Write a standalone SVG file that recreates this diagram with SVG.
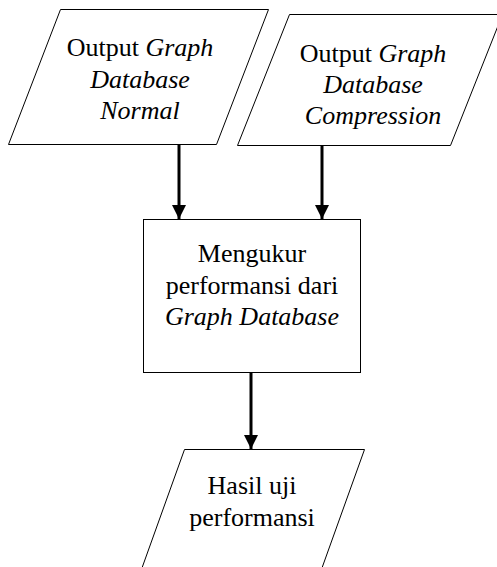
<svg xmlns="http://www.w3.org/2000/svg" width="497" height="567" viewBox="0 0 497 567">
<style>
.shape{fill:#fff;stroke:#000;stroke-width:1}
.t{font-family:"Liberation Serif","Times New Roman",serif;font-size:26px;fill:#000;text-anchor:middle}
.i{font-style:italic}
.conn{stroke:#000;stroke-width:3;fill:none}
</style>
<defs>
<marker id="ah" markerWidth="14" markerHeight="14" viewBox="0 0 14 14" refX="14" refY="7" orient="auto" markerUnits="userSpaceOnUse">
<path d="M0,0 L14,7 L0,14 Z" fill="#000"/>
</marker>
</defs>
<rect width="497" height="567" fill="#fff"/>
<g id="n1">
<polygon class="shape" points="60.5,9.5 268.5,9.5 216.5,144.5 8.5,144.5"/>
<text class="t" x="140" y="56">Output <tspan class="i">Graph</tspan></text>
<text class="t i" x="140" y="88">Database</text>
<text class="t i" x="140" y="119">Normal</text>
</g>
<g id="n2">
<polygon class="shape" points="289.5,14.5 502.5,14.5 450.5,145.5 237.5,145.5"/>
<text class="t" x="373" y="62">Output <tspan class="i">Graph</tspan></text>
<text class="t i" x="373" y="93">Database</text>
<text class="t i" x="373" y="124">Compression</text>
</g>
<g id="n3">
<rect class="shape" x="143.5" y="219.5" width="217" height="153"/>
<text class="t" x="252" y="262">Mengukur</text>
<text class="t" x="252" y="294">performansi dari</text>
<text class="t i" x="252" y="325">Graph Database</text>
</g>
<g id="n4">
<polygon class="shape" points="184.5,449.5 364.5,449.5 310.5,600 130.5,600"/>
<text class="t" x="252" y="494">Hasil uji</text>
<text class="t" x="252" y="526">performansi</text>
</g>
<g id="connectors">
<line class="conn" x1="179" y1="145" x2="179" y2="219" marker-end="url(#ah)"/>
<line class="conn" x1="322" y1="146" x2="322" y2="219" marker-end="url(#ah)"/>
<line class="conn" x1="251" y1="373" x2="251" y2="449" marker-end="url(#ah)"/>
</g>
</svg>
